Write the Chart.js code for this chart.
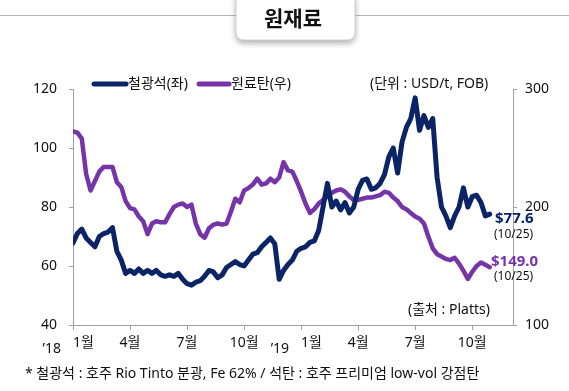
<!DOCTYPE html>
<html>
<head>
<meta charset="utf-8">
<script src="https://cdn.jsdelivr.net/npm/chart.js@4"></script>
<style>
  html, body { margin: 0; padding: 0; background: #fff; }
</style>
</head>
<body>
<canvas id="chart" width="569" height="391"></canvas>
<script>
const FONT = "'Noto Sans', 'Noto Sans CJK KR', sans-serif";

// 주간 데이터 ('18.1월 첫째 주 ~ '19.10/25)
const monthLabels = ['1월', '4월', '7월', '10월', '1월', '4월', '7월', '10월'];
const monthTicks = [0, 13, 26, 39, 52, 65, 78, 91]; // 2018년 1월부터의 주차
const yearLabels = ["’18", "’19"];

const ironOre = [
  67.8, 71, 72.5, 69.5, 68, 66.5, 70, 71, 71.5, 73,
  65, 62, 57.5, 58.5, 57.5, 59, 57.5, 58.5, 57.5, 58.5,
  57, 56.5, 57, 56.5, 57.5, 55.5, 54, 53.5, 54.5, 55,
  56.5, 58.5, 58, 56, 57, 59.5, 60.5, 61.5, 60.5, 60,
  62, 64, 64.5, 66.5, 68, 69.5, 67.5, 55.5, 58.5, 60.5,
  62, 65, 66, 66.5, 68, 68.5, 72, 80, 88, 80,
  82, 79, 81.5, 78, 80, 86, 89, 89.5, 86, 86.5,
  88, 91, 97, 100, 91.5, 102, 107, 110, 117, 106,
  111, 107, 110, 90, 80, 77, 73, 77, 80, 86.5,
  80, 83.5, 84, 81.5, 77, 77.6
];

const cokingCoal = [
  264, 263, 258, 228, 214, 222, 230, 234, 234, 234,
  221, 217, 205, 199, 198, 192, 188, 177, 186, 188,
  187, 187, 194, 200, 202, 203, 200, 202, 186, 177,
  174, 182, 185, 186, 185, 186, 196, 207, 204, 214,
  216, 219, 224, 219, 220, 224, 221, 225, 238, 231,
  230, 222, 213, 203, 195, 198, 203, 206, 209, 212,
  214, 215, 213, 209, 206, 206, 207, 208, 208, 209,
  210, 213, 212, 208, 205, 200, 198, 195, 192, 190,
  186, 175, 165, 160, 158, 156, 155, 157, 152, 146,
  139, 145, 150, 153, 151, 149
];

const NAVY = '#0b2465';
const PURPLE = '#7535a8';
const AXIS = '#a0a0a0';

const toPoints = arr => arr.map((v, i) => ({ x: i, y: v }));

// 제목, 범례, 주석 그리기
const decorPlugin = {
  id: 'decor',
  beforeDraw(chart) {
    const ctx = chart.ctx;
    ctx.save();
    ctx.fillStyle = '#fff';
    ctx.fillRect(0, 0, chart.width, chart.height);
    // 제목 가로선
    ctx.strokeStyle = '#b5b5b5';
    ctx.lineWidth = 1;
    ctx.beginPath();
    ctx.moveTo(0, 15.5);
    ctx.lineTo(chart.width, 15.5);
    ctx.stroke();
    // 제목 박스
    ctx.shadowColor = 'rgba(0,0,0,0.35)';
    ctx.shadowBlur = 6;
    ctx.shadowOffsetY = 3;
    ctx.fillStyle = '#fff';
    ctx.beginPath();
    ctx.roundRect(236, -8, 119, 48, 7);
    ctx.fill();
    ctx.shadowColor = 'transparent';
    ctx.strokeStyle = '#d0d0d0';
    ctx.stroke();
    ctx.fillStyle = '#111';
    ctx.font = "bold 21px 'Noto Sans CJK KR'";
    ctx.textAlign = 'center';
    ctx.textBaseline = 'middle';
    ctx.fillText('원재료', 293, 18);
    ctx.restore();
  },
  afterDraw(chart) {
    const ctx = chart.ctx;
    const x = chart.scales.x;
    ctx.save();

    // 범례
    ctx.lineCap = 'round';
    ctx.lineWidth = 5;
    ctx.strokeStyle = NAVY;
    ctx.beginPath(); ctx.moveTo(94, 84); ctx.lineTo(126, 84); ctx.stroke();
    ctx.strokeStyle = PURPLE;
    ctx.beginPath(); ctx.moveTo(199, 84); ctx.lineTo(229, 84); ctx.stroke();
    ctx.fillStyle = '#111';
    ctx.font = '14px ' + FONT;
    ctx.textAlign = 'left';
    ctx.textBaseline = 'middle';
    ctx.fillText('철광석(좌)', 128, 84);
    ctx.fillText('원료탄(우)', 231, 84);
    ctx.fillText('(단위 : USD/t, FOB)', 370, 84);
    ctx.fillText('(출처 : Platts)', 408, 310);

    // x축 라벨
    monthTicks.forEach((t, i) => {
      const px = x.getPixelForValue(t);
      if (i % 4 === 0) {
        ctx.textAlign = 'left';
        ctx.fillText(monthLabels[i], px, 343);
        ctx.textAlign = 'right';
        ctx.fillText(yearLabels[i / 4], px - 12, 349);
      } else {
        ctx.textAlign = 'center';
        ctx.fillText(monthLabels[i], px, 343);
      }
    });

    // 최근값 표시
    ctx.textAlign = 'left';
    ctx.font = 'bold 15px ' + FONT;
    ctx.fillStyle = NAVY;
    ctx.fillText('$' + ironOre[ironOre.length - 1].toFixed(1), 495, 219);
    ctx.fillStyle = PURPLE;
    ctx.fillText('$' + cokingCoal[cokingCoal.length - 1].toFixed(1), 491, 262);
    ctx.fillStyle = '#111';
    ctx.font = '12px ' + FONT;
    ctx.fillText('(10/25)', 494, 235);
    ctx.fillText('(10/25)', 494, 277);

    // 각주
    ctx.font = '14px ' + FONT;
    ctx.fillText('* 철광석 : 호주 Rio Tinto 분광, Fe 62% / 석탄 : 호주 프리미엄 low-vol 강점탄', 25, 374);
    ctx.restore();
  }
};

const ctx = document.getElementById('chart').getContext('2d');

const chart = new Chart(ctx, {
  type: 'line',
  data: {
    datasets: [
      {
        label: '철광석(좌)',
        data: toPoints(ironOre),
        yAxisID: 'y',
        borderColor: NAVY,
        borderWidth: 5,
        pointRadius: 0,
        borderJoinStyle: 'round',
        borderCapStyle: 'round',
        fill: false
      },
      {
        label: '원료탄(우)',
        data: toPoints(cokingCoal),
        yAxisID: 'y2',
        borderColor: PURPLE,
        borderWidth: 4.5,
        pointRadius: 0,
        borderJoinStyle: 'round',
        borderCapStyle: 'round',
        fill: false
      }
    ]
  },
  options: {
    responsive: false,
    animation: false,
    devicePixelRatio: 1,
    layout: { padding: { top: 89, left: 0, right: 0, bottom: 0 } },
    plugins: {
      legend: { display: false },
      tooltip: { enabled: false }
    },
    scales: {
      x: {
        type: 'linear',
        min: 0,
        max: 100.3,
        grid: { drawOnChartArea: false, tickLength: 5, color: AXIS },
        border: { color: AXIS },
        ticks: { display: false },
        afterBuildTicks: s => { s.ticks = monthTicks.map(v => ({ value: v })); },
        afterFit: s => { s.height = 66; }
      },
      y: {
        position: 'left',
        min: 40,
        max: 120,
        grid: { drawOnChartArea: false, tickLength: 4, color: AXIS },
        border: { color: AXIS },
        ticks: { stepSize: 20, color: '#111', padding: 12, font: { family: FONT, size: 14 } },
        afterFit: s => { s.width = 73; }
      },
      y2: {
        position: 'right',
        min: 100,
        max: 300,
        grid: { drawOnChartArea: false, tickLength: 4, color: AXIS },
        border: { color: AXIS },
        ticks: { stepSize: 100, color: '#111', padding: 8, font: { family: FONT, size: 14 } },
        afterFit: s => { s.width = 56; }
      }
    }
  },
  plugins: [decorPlugin]
});
</script>
</body>
</html>
